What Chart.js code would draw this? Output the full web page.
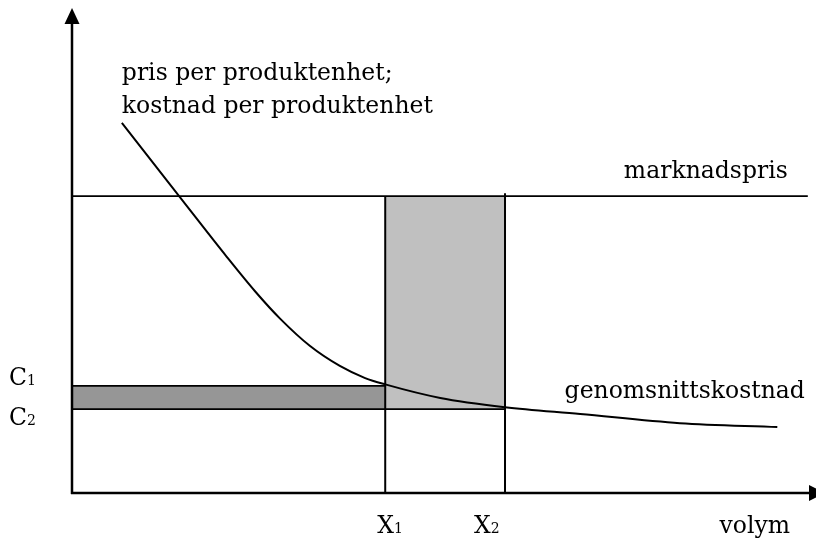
<!DOCTYPE html>
<html>
<head>
<meta charset="utf-8">
<script src="https://cdn.jsdelivr.net/npm/chart.js@4/dist/chart.umd.min.js"></script>
<style>
  html, body { margin: 0; padding: 0; background: #ffffff; }
  #wrap { width: 816px; height: 540px; position: relative; }
</style>
</head>
<body>
<div id="wrap"><canvas id="c" width="816" height="540"></canvas></div>
<script>
// ---- data (abstract units: volume 0..100, price/cost 0..100) ----
const volymTicks = [42.1, 58.2];            // X1, X2
const volymTickLabels = [["X", "1"], ["X", "2"]];
const kostnadTicks = [22.1, 17.3];           // C1, C2
const kostnadTickLabels = [["C", "1"], ["C", "2"]];
const marknadspris = 61.2;
const marknadsprisEnd = 98.9;
// average cost per unit (genomsnittskostnad)
const kurvaVolym = [6.7, 14.5, 20.8, 24.6, 28.0, 32.0, 36.0, 39.4, 42.1, 49.5, 58.2, 68.3, 81.7, 94.8];
const kurvaKostnad = [76.3, 61.0, 48.7, 41.6, 35.9, 30.3, 26.2, 23.7, 22.4, 19.6, 17.7, 16.3, 14.4, 13.6];
const textEtiketter = ["pris per produktenhet;", "kostnad per produktenhet", "marknadspris", "genomsnittskostnad", "volym"];

const X1 = volymTicks[0], X2 = volymTicks[1];
const C1 = kostnadTicks[0], C2 = kostnadTicks[1];

const pts = (xs, ys) => xs.map((x, i) => ({ x: x, y: ys[i] }));

const FONT = '"DejaVu Serif", "Liberation Serif", serif';

const datasets = [
  // curve
  { data: pts(kurvaVolym, kurvaKostnad), borderColor: '#000', borderWidth: 2, cubicInterpolationMode: 'monotone', order: 0 },
  // market price line
  { data: [{ x: 0, y: marknadspris }, { x: marknadsprisEnd, y: marknadspris }], borderColor: '#000', borderWidth: 1.8, order: 1 },
  // X1 vertical
  { data: [{ x: X1, y: 0 }, { x: X1, y: marknadspris }], borderColor: '#000', borderWidth: 2, order: 1 },
  // X2 vertical
  { data: [{ x: X2, y: 0 }, { x: X2, y: marknadspris + 0.6 }], borderColor: '#000', borderWidth: 2, order: 1 },
  // C1 line
  { data: [{ x: 0, y: C1 }, { x: X1, y: C1 }], borderColor: '#000', borderWidth: 1.8, order: 1 },
  // C2 line
  { data: [{ x: 0, y: C2 }, { x: X2, y: C2 }], borderColor: '#000', borderWidth: 1.8, order: 1 },
  // light grey rectangle
  { data: [{ x: X1, y: marknadspris }, { x: X2, y: marknadspris }], borderWidth: 0, borderColor: 'rgba(0,0,0,0)', backgroundColor: '#c0c0c0', fill: { value: C2 }, order: 5 },
  // dark grey rectangle
  { data: [{ x: 0, y: C1 }, { x: X1, y: C1 }], borderWidth: 0, borderColor: 'rgba(0,0,0,0)', backgroundColor: '#969696', fill: { value: C2 }, order: 5 }
];

const overlay = {
  id: 'overlay',
  afterDatasetsDraw(chart) {
    const ctx = chart.ctx;
    const xs = chart.scales.x, ys = chart.scales.y;
    const x0 = xs.getPixelForValue(0), y0 = ys.getPixelForValue(0);
    const yTop = ys.getPixelForValue(100);
    const xEnd = xs.getPixelForValue(100);
    ctx.save();
    ctx.strokeStyle = '#000';
    ctx.fillStyle = '#000';
    ctx.lineWidth = 2.5;
    // y axis
    ctx.beginPath();
    ctx.moveTo(x0, y0 + 1);
    ctx.lineTo(x0, yTop + 14);
    ctx.stroke();
    ctx.beginPath();
    ctx.moveTo(x0, yTop);
    ctx.lineTo(x0 - 7.5, yTop + 16);
    ctx.lineTo(x0 + 7.5, yTop + 16);
    ctx.closePath();
    ctx.fill();
    // x axis
    const xb = xEnd - 7;
    ctx.beginPath();
    ctx.moveTo(x0 - 1, y0);
    ctx.lineTo(xb + 2, y0);
    ctx.stroke();
    ctx.beginPath();
    ctx.moveTo(xb + 16, y0);
    ctx.lineTo(xb, y0 - 8);
    ctx.lineTo(xb, y0 + 8);
    ctx.closePath();
    ctx.fill();

    const big = '23.5px ' + FONT, small = '14px ' + FONT;
    ctx.textBaseline = 'alphabetic';
    const sub = (parts, x, y) => {
      ctx.font = big; ctx.textAlign = 'left';
      ctx.fillText(parts[0], x, y);
      const w = ctx.measureText(parts[0]).width;
      ctx.font = small;
      ctx.fillText(parts[1], x + w, y);
    };
    // y tick labels
    sub(kostnadTickLabels[0], 9, ys.getPixelForValue(C1) - 1);
    sub(kostnadTickLabels[1], 9, ys.getPixelForValue(C2) + 16);
    // x tick labels
    sub(volymTickLabels[0], xs.getPixelForValue(X1) - 8, y0 + 40);
    sub(volymTickLabels[1], xs.getPixelForValue(X2) - 31, y0 + 40);

    ctx.font = big;
    ctx.textAlign = 'left';
    ctx.fillText(textEtiketter[0], xs.getPixelForValue(kurvaVolym[0]), ys.getPixelForValue(85.2));
    ctx.fillText(textEtiketter[1], xs.getPixelForValue(kurvaVolym[0]), ys.getPixelForValue(78.4));
    ctx.textAlign = 'right';
    ctx.fillText(textEtiketter[2], xs.getPixelForValue(96.2), ys.getPixelForValue(marknadspris) - 18);
    ctx.fillText(textEtiketter[3], xs.getPixelForValue(98.5), ys.getPixelForValue(19.6));
    ctx.fillText(textEtiketter[4], xs.getPixelForValue(96.5), y0 + 40);
    ctx.restore();
  }
};

new Chart(document.getElementById('c'), {
  type: 'line',
  data: { datasets: datasets },
  options: {
    responsive: false,
    animation: false,
    events: [],
    layout: { padding: { left: 72, right: 0, top: 8, bottom: 47 } },
    elements: { point: { radius: 0 }, line: { tension: 0 } },
    plugins: { legend: { display: false }, tooltip: { enabled: false } },
    scales: {
      x: { type: 'linear', min: 0, max: 100, display: false },
      y: { type: 'linear', min: 0, max: 100, display: false }
    }
  },
  plugins: [overlay]
});
</script>
</body>
</html>
